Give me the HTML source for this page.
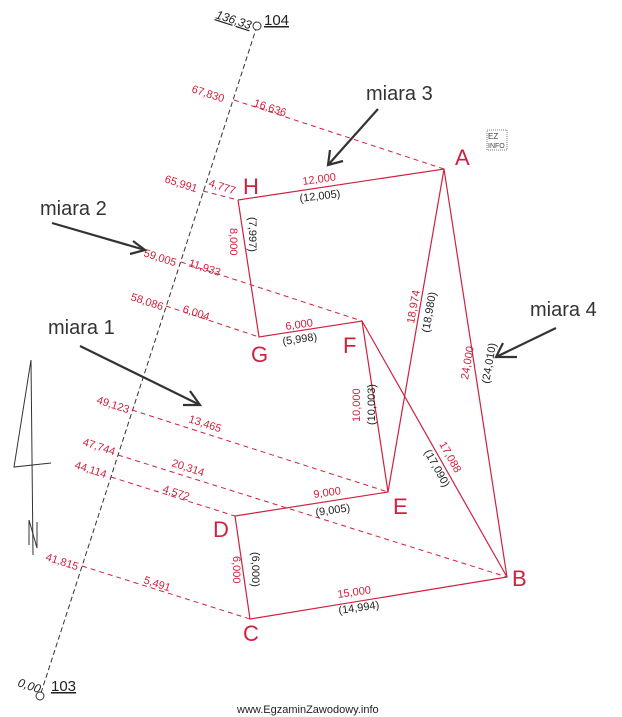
<!DOCTYPE html>
<html><head><meta charset="utf-8"><style>
html,body{margin:0;padding:0;background:#fff;}
svg{display:block;font-family:"Liberation Sans",sans-serif;}
.r{fill:#d0213f;font-size:11px;}
.k{fill:#222;font-size:11px;}
.P{fill:#d0213f;font-size:22px;}
.m{fill:#333;font-size:20px;}
</style></head><body>
<svg width="622" height="717" viewBox="0 0 622 717">
<!-- baseline -->
<line x1="257" y1="26" x2="40" y2="696" stroke="#333" stroke-width="1" stroke-dasharray="5,3"/>
<circle cx="257" cy="26" r="4" fill="#fff" stroke="#333"/>
<circle cx="40" cy="696" r="4" fill="#fff" stroke="#333"/>
<!-- offsets -->
<g stroke="#d0213f" stroke-width="1" stroke-dasharray="5,4" fill="none">
<line x1="234" y1="100" x2="444" y2="169"/>
<line x1="203" y1="191" x2="238" y2="200"/>
<line x1="181" y1="262" x2="362" y2="321"/>
<line x1="166" y1="306" x2="259" y2="337"/>
<line x1="132" y1="410" x2="388" y2="492"/>
<line x1="118" y1="455" x2="507" y2="577"/>
<line x1="111" y1="477" x2="235" y2="516"/>
<line x1="82" y1="566" x2="250" y2="619"/>
</g>
<!-- sides -->
<g stroke="#d0213f" stroke-width="1.2" fill="none">
<polyline points="238,200 444,169 507,577 250,619 235,516 388,492 362,321 259,337 238,200"/>
<line x1="444" y1="169" x2="388" y2="492"/>
<line x1="362" y1="321" x2="507" y2="577"/>
</g>
<!-- north arrow -->
<g stroke="#333" stroke-width="1" fill="none">
<polyline points="33,555 31,360 14,467 51,463"/>
<polyline points="29,545 29,520 37,548 37,522"/>
</g>
<!-- top/bottom labels -->
<text x="215" y="18" transform="rotate(18 215 18)" style="font-size:12px;font-style:italic;text-decoration:underline" fill="#222">136,33</text>
<text x="264" y="25" style="font-size:15px;text-decoration:underline" fill="#222">104</text>
<text x="17" y="686" transform="rotate(18 17 686)" style="font-size:12px;font-style:italic" fill="#222">0,00</text>
<text x="51" y="691" style="font-size:15px;text-decoration:underline" fill="#222">103</text>
<!-- offset labels -->
<g class="r">
<text x="191" y="92" transform="rotate(18 191 92)">67,830</text>
<text x="253" y="106" transform="rotate(18 253 106)">16,636</text>
<text x="164" y="182" transform="rotate(18 164 182)">65,991</text>
<text x="208" y="186" transform="rotate(18 208 186)">4,777</text>
<text x="143" y="256" transform="rotate(18 143 256)">59,005</text>
<text x="188" y="266" transform="rotate(18 188 266)">11,933</text>
<text x="130" y="300" transform="rotate(18 130 300)">58,086</text>
<text x="182" y="312" transform="rotate(18 182 312)">6,004</text>
<text x="96" y="403" transform="rotate(18 96 403)">49,123</text>
<text x="188" y="422" transform="rotate(18 188 422)">13,465</text>
<text x="82" y="445" transform="rotate(18 82 445)">47,744</text>
<text x="171" y="466" transform="rotate(18 171 466)">20,314</text>
<text x="74" y="468" transform="rotate(18 74 468)">44,114</text>
<text x="162" y="492" transform="rotate(18 162 492)">4,572</text>
<text x="45" y="560" transform="rotate(18 45 560)">41,815</text>
<text x="143" y="583" transform="rotate(18 143 583)">5,491</text>
<text x="303" y="185" transform="rotate(-8 303 185)">12,000</text>
<text x="230" y="228" transform="rotate(90 230 228)">8,000</text>
<text x="286" y="330" transform="rotate(-8 286 330)">6,000</text>
<text x="360" y="422" transform="rotate(-90 360 422)">10,000</text>
<text x="414" y="324" transform="rotate(-80 414 324)">18,974</text>
<text x="468" y="380" transform="rotate(-80 468 380)">24,000</text>
<text x="439" y="444" transform="rotate(61 439 444)">17,088</text>
<text x="314" y="498" transform="rotate(-8 314 498)">9,000</text>
<text x="233" y="556" transform="rotate(90 233 556)">6,000</text>
<text x="338" y="598" transform="rotate(-8 338 598)">15,000</text>
</g>
<g class="k">
<text x="300" y="202" transform="rotate(-7 300 202)">(12,005)</text>
<text x="249" y="217" transform="rotate(90 249 217)">(7,997)</text>
<text x="283" y="345" transform="rotate(-8 283 345)">(5,998)</text>
<text x="375" y="425" transform="rotate(-90 375 425)">(10,003)</text>
<text x="429" y="333" transform="rotate(-80 429 333)">(18,980)</text>
<text x="489" y="384" transform="rotate(-80 489 384)">(24,010)</text>
<text x="424" y="452" transform="rotate(61 424 452)">(17,090)</text>
<text x="316" y="516" transform="rotate(-8 316 516)">(9,005)</text>
<text x="252" y="552" transform="rotate(90 252 552)">(6,000)</text>
<text x="339" y="614" transform="rotate(-8 339 614)">(14,994)</text>
</g>
<!-- point labels -->
<g class="P">
<text x="455" y="165">A</text>
<text x="243" y="194">H</text>
<text x="251" y="362">G</text>
<text x="343" y="353">F</text>
<text x="393" y="514">E</text>
<text x="213" y="537">D</text>
<text x="243" y="641">C</text>
<text x="512" y="586">B</text>
</g>
<!-- arrows -->
<g stroke="#333" stroke-width="2.2" fill="none">
<line x1="378" y1="109" x2="328" y2="165"/><polyline points="330,150 328,165 343,161"/>
<line x1="52" y1="223" x2="145" y2="250"/><polyline points="133,241 145,250 130,254"/>
<line x1="80" y1="346" x2="200" y2="405"/><polyline points="190,391 200,405 183,405"/>
<line x1="556" y1="328" x2="496" y2="357"/><polyline points="503,343 496,357 517,357"/>
</g>
<g class="m">
<text x="366" y="100">miara 3</text>
<text x="40" y="215">miara 2</text>
<text x="48" y="334">miara 1</text>
<text x="530" y="316">miara 4</text>
</g>
<rect x="487" y="130" width="20" height="20" fill="none" stroke="#555" stroke-width="0.8" stroke-dasharray="1,1"/>
<text x="488" y="139" style="font-size:8px" fill="#444">EZ</text>
<text x="488" y="148" style="font-size:7px" fill="#444">INFO</text>
<text x="237" y="713" style="font-size:11px" fill="#222">www.EgzaminZawodowy.info</text>
</svg>
</body></html>
